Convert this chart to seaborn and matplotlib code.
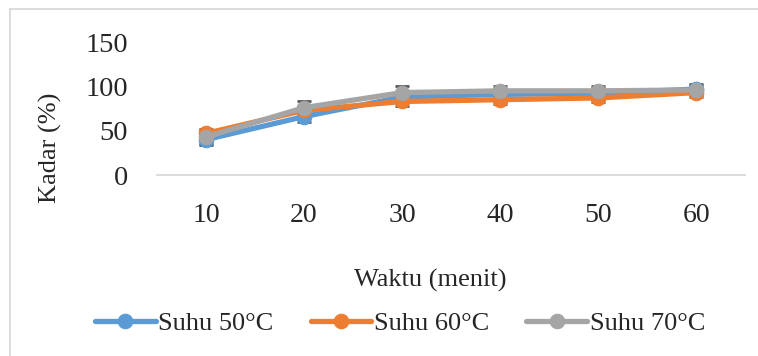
import matplotlib
matplotlib.use("Agg")
import matplotlib.pyplot as plt
from matplotlib.patches import Rectangle
import seaborn as sns
import pandas as pd

# data
waktu = ["10", "20", "30", "40", "50", "60"]
suhu_50 = [40, 66, 88, 91, 92, 97]
suhu_60 = [47, 73, 83, 85, 87, 93]
suhu_70 = [43, 76, 93, 95, 95, 96]
err_50 = [6, 6, 6, 6, 6, 6]
err_60 = [5, 5, 5, 5, 5, 5]
err_70 = [8, 7, 7, 6, 6, 6]
series = ["Suhu 50°C", "Suhu 60°C", "Suhu 70°C"]
colors = ["#5B9BD5", "#ED7D31", "#A5A5A5"]

df = pd.DataFrame({
    "Waktu": waktu * 3,
    "Kadar": suhu_50 + suhu_60 + suhu_70,
    "err": err_50 + err_60 + err_70,
    "Seri": [s for s in series for _ in waktu],
})
df["pos"] = [i for _ in series for i in range(len(waktu))]

sns.set_theme(style="white")
plt.rcParams["font.family"] = ["Liberation Serif", "DejaVu Serif"]

fig = plt.figure(figsize=(7.58, 3.56), dpi=100)
ax = fig.add_axes([0.207, 0.508, 0.776, 0.374])

for s, c in zip(series, colors):
    sub = df[df["Seri"] == s]
    ax.errorbar(sub["pos"], sub["Kadar"], yerr=sub["err"], fmt="none",
                ecolor="#595959", elinewidth=1.2, capsize=5, capthick=2, zorder=2)
    sns.lineplot(data=sub, x="pos", y="Kadar", color=c, marker="o",
                 markersize=10.5, markeredgecolor=c, linewidth=3.8, label=s,
                 ax=ax, zorder=3)

ax.set_xlim(-0.5, 5.5)
ax.set_ylim(0, 150)
ax.set_yticks([0, 50, 100, 150])
ax.set_xticks(range(len(waktu)))
ax.set_xticklabels(waktu)
ax.set_xlabel("")
ax.set_ylabel("")
ax.tick_params(axis="x", labelsize=20, pad=20, length=0)
ax.tick_params(axis="y", labelsize=20.5, pad=21, length=0)
for sp in ["top", "right", "left"]:
    ax.spines[sp].set_visible(False)
ax.spines["bottom"].set_color("#d9d9d9")
ax.spines["bottom"].set_linewidth(1.3)

fig.text(50 / 758, 0.585, "Kadar (%)", rotation=90, ha="center", va="center", fontsize=19)
fig.text(430 / 758, 1 - 280 / 356, "Waktu (menit)", ha="center", va="center", fontsize=19)

handles, labels = ax.get_legend_handles_labels()
ax.legend(handles, labels, loc="center", bbox_to_anchor=(400 / 758, 1 - 323 / 356),
          bbox_transform=fig.transFigure, ncol=3, frameon=False, fontsize=19,
          handlelength=2.3, handletextpad=0.1, columnspacing=1.4)

fig.patches.append(Rectangle((9.5 / 758, -0.1), 1.2, 1 - 8.5 / 356 + 0.1,
                             transform=fig.transFigure, fill=False,
                             edgecolor="#d9d9d9", linewidth=1.3))

fig.savefig("out.png", dpi=100)
